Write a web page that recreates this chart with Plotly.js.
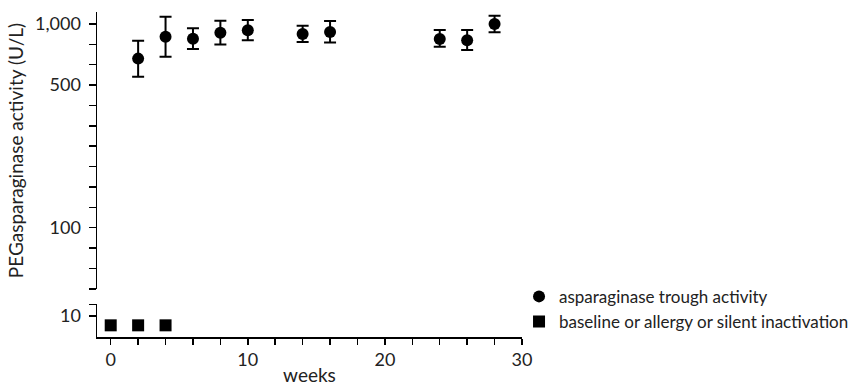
<!DOCTYPE html>
<html>
<head>
<meta charset="utf-8">
<script src="https://cdn.plot.ly/plotly-3.0.1.min.js"></script>
<style>
  html, body { margin: 0; padding: 0; background: #fff; }
  #chart { width: 857px; height: 386px; }
</style>
</head>
<body>
<div id="chart"></div>
<script>
// Trough asparaginase activity by week (U/L), mean with upper/lower bounds
const weeks = [2, 4, 6, 8, 10, 14, 16, 24, 26, 28];
const troughActivity = [676, 866, 847, 906, 931, 893, 914, 844, 832, 1000];
const troughUpper = [828, 1086, 953, 1038, 1046, 981, 1034, 935, 935, 1098];
const troughLower = [550, 691, 754, 792, 832, 816, 810, 774, 746, 911];

// Baseline / allergy / silent inactivation (below the axis break)
const baselineWeeks = [0, 2, 4];
const baselineActivity = [9, 9, 9];

// Tick labels
const xTickVals = [0, 2, 4, 6, 8, 10, 12, 14, 16, 18, 20, 22, 24, 26, 28, 30];
const xTickText = ['0', '', '', '', '', '10', '', '', '', '', '20', '', '', '', '', '30'];
const yTickVals = [1000, 794.3, 631, 501.2, 398.1, 316.2, 251.2, 199.5, 158.5, 125.9, 100, 79.4, 63.1, 50.12];
const yTickText = ['1,000', '', '', '500', '', '', '', '', '', '', '100', '', '', ''];
const yLowTickVals = [10, 11.4];
const yLowTickText = ['10', ''];

const FONT = 'Lato, "Open Sans", "DejaVu Sans", sans-serif';
const INK = '#222';

const axisStyle = {
  showline: true, linecolor: '#000', linewidth: 1.5,
  ticks: 'outside', tickcolor: '#000', tickwidth: 1.5,
  showgrid: false, zeroline: false,
  tickfont: { family: FONT, size: 18, color: INK }
};

const traces = [
  {
    name: 'asparaginase trough activity',
    x: weeks, y: troughActivity,
    xaxis: 'x', yaxis: 'y',
    type: 'scatter', mode: 'markers',
    marker: { symbol: 'circle', size: 12, color: '#000' },
    error_y: {
      type: 'data', symmetric: false,
      array: troughUpper.map((u, i) => u - troughActivity[i]),
      arrayminus: troughLower.map((l, i) => troughActivity[i] - l),
      color: '#000', thickness: 2, width: 6
    },
    cliponaxis: false,
    legendgroup: 'a'
  },
  {
    name: 'baseline or allergy or silent inactivation',
    x: baselineWeeks, y: baselineActivity,
    xaxis: 'x', yaxis: 'y2',
    type: 'scatter', mode: 'markers',
    marker: { symbol: 'square', size: 12, color: '#000' },
    cliponaxis: false,
    legendgroup: 'b'
  }
];

// plot area spans x 97..857 px, y 12..337 px
const layout = {
  width: 857, height: 386,
  margin: { l: 97, r: 0, t: 12, b: 49 },
  paper_bgcolor: '#fff', plot_bgcolor: '#fff',
  font: { family: FONT, color: INK },
  showlegend: true,
  legend: {
    x: 0.5553, xanchor: 'left', y: 0.179, yanchor: 'top',
    font: { family: FONT, size: 17, color: INK },
    traceorder: 'grouped', tracegroupgap: 0,
    bgcolor: 'rgba(0,0,0,0)'
  },
  xaxis: Object.assign({}, axisStyle, {
    domain: [0, 0.5592], range: [-1, 30], anchor: 'y2',
    tickmode: 'array', tickvals: xTickVals, ticktext: xTickText,
    ticklen: 6,
    title: { text: 'weeks', font: { family: FONT, size: 19, color: INK }, standoff: 2 }
  }),
  yaxis: Object.assign({}, axisStyle, {
    type: 'log', domain: [0.1477, 1], range: [1.699, 3.0588], anchor: 'x',
    tickmode: 'array', tickvals: yTickVals, ticktext: yTickText,
    ticklen: 7, ticklabelstandoff: 4,
    title: { text: 'PEGasparaginase activity (U/L)', font: { family: FONT, size: 19, color: INK }, standoff: 6 }
  }),
  yaxis2: Object.assign({}, axisStyle, {
    type: 'log', domain: [0, 0.1015], range: [0.897, 1.0588], anchor: 'x',
    tickmode: 'array', tickvals: yLowTickVals, ticktext: yLowTickText,
    ticklen: 7, ticklabelstandoff: 4
  })
};

Plotly.newPlot('chart', traces, layout, { displayModeBar: false, staticPlot: true });
</script>
</body>
</html>
